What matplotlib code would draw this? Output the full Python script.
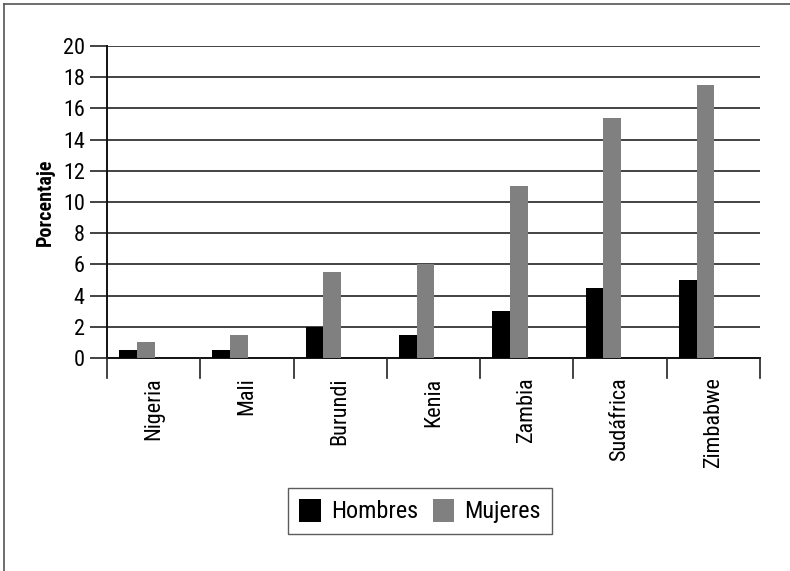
import matplotlib
matplotlib.use("Agg")
import matplotlib.pyplot as plt
from matplotlib.lines import Line2D
from matplotlib.patches import Patch
import numpy as np

plt.rcParams['font.family'] = ['Roboto Condensed', 'DejaVu Sans']

categories = ["Nigeria", "Mali", "Burundi", "Kenia", "Zambia", "Sudáfrica", "Zimbabwe"]
hombres = [0.5, 0.5, 2.0, 1.5, 3.0, 4.5, 5.0]
mujeres = [1.0, 1.5, 5.5, 6.0, 11.0, 15.4, 17.5]
series_names = ["Hombres", "Mujeres"]
yticks = list(range(0, 21, 2))

W, H = 790, 571
fig = plt.figure(figsize=(W / 100, H / 100), dpi=100)
ax = fig.add_axes([107 / W, 1 - 358 / H, (760 - 107) / W, (358 - 46) / H])

x = np.arange(len(categories))
bw = 0.19
off = 0.13
ax.bar(x + off, hombres, width=bw, align='edge', color='black', zorder=3)
ax.bar(x + off + bw, mujeres, width=bw, align='edge', color='#808080', zorder=3)

ax.set_xlim(0, len(categories))
ax.set_ylim(0, 20)
ax.set_yticks(yticks)
ax.set_yticklabels([str(v) for v in yticks], fontsize=16)
for v in yticks[1:]:
    ax.axhline(v, color='#222222', lw=1.2, zorder=1)

ax.set_xticks(x + 0.5)
ax.set_xticklabels(categories, rotation=90, fontsize=16, va='top')
ax.tick_params(axis='x', length=0, pad=14)
ax.tick_params(axis='y', length=12, width=1.2, direction='out', color='#222222', pad=4)
for b in range(len(categories) + 1):
    ax.plot([b, b], [0, -1.3], color='#222222', lw=1.2, clip_on=False, zorder=4)

for s in ['top', 'right']:
    ax.spines[s].set_visible(False)
ax.spines['left'].set_linewidth(1.4)
ax.spines['bottom'].set_linewidth(1.4)
ax.spines['left'].set_color('#111111')
ax.spines['bottom'].set_color('#111111')
ax.set_ylabel("Porcentaje", fontsize=14.5, fontweight='bold', labelpad=6)

handles = [Patch(facecolor='black', edgecolor='none'), Patch(facecolor='#808080', edgecolor='none')]
leg = fig.legend(handles, series_names, loc='center', bbox_to_anchor=(420 / W, 1 - 511 / H),
                 ncol=2, fontsize=17.5, frameon=True, fancybox=False, handlelength=0.9,
                 handleheight=1.1, handletextpad=0.4, columnspacing=0.6, borderpad=0.45)
leg.get_frame().set_edgecolor('#333333')
leg.get_frame().set_linewidth(1.0)

fig.add_artist(Line2D([4 / W, 4 / W], [0, 1 - 4 / H], transform=fig.transFigure, color='#555555', lw=1.2))
fig.add_artist(Line2D([4 / W, 1], [1 - 4 / H, 1 - 4 / H], transform=fig.transFigure, color='#555555', lw=1.2))

fig.savefig("out.png", dpi=100)
